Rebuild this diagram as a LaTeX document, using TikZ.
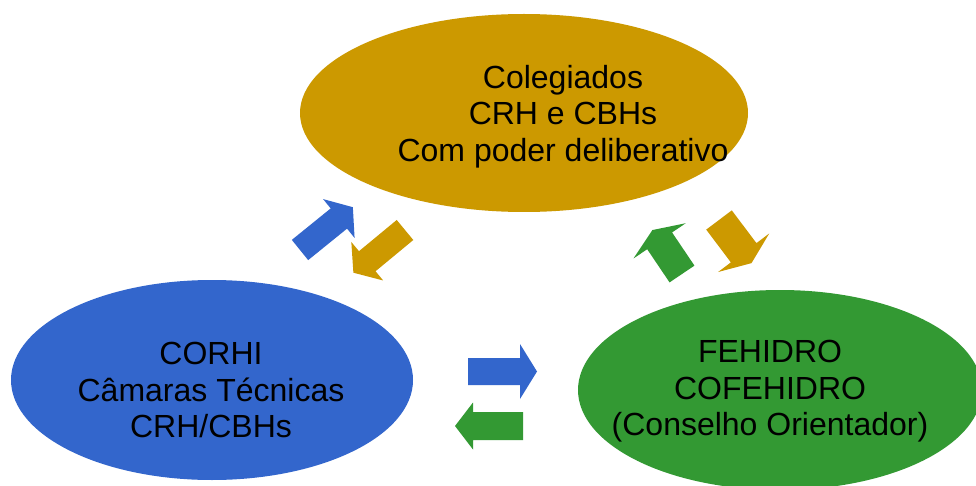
\documentclass[tikz,border=0pt]{standalone}
\usepackage{fontspec}
\setmainfont{Liberation Sans}
\usetikzlibrary{shapes.geometric}
\definecolor{gold}{RGB}{204,153,0}
\definecolor{cblue}{RGB}{51,102,204}
\definecolor{cgreen}{RGB}{51,153,51}
% #1 colour, #2 tail x, #3 tail y, #4 angle, #5 length, #6 body width, #7 head width, #8 head length
\newcommand\blkarrow[8]{%
  \begin{scope}[shift={(#2,#3)}, rotate=#4]
    \fill[#1] (0,{-#6/2}) -- ({#5-#8},{-#6/2}) -- ({#5-#8},{-#7/2}) -- (#5,0)
      -- ({#5-#8},{#7/2}) -- ({#5-#8},{#6/2}) -- (0,{#6/2}) -- cycle;
  \end{scope}}
\tikzset{
  blob/.style={ellipse, inner sep=0pt, draw=none},
  lbl/.style={align=center, inner sep=0pt, font=\fontsize{32}{36.5}\selectfont, text=black}
}
\begin{document}
\begin{tikzpicture}[x=1pt, y=-1pt]
\clip (0,0) rectangle (976,486);
\useasboundingbox (0,0) rectangle (976,486);
\fill[white] (0,0) rectangle (976,486);

\node[blob, fill=gold, minimum width=448pt, minimum height=198pt] (col) at (524,113) {};
\node[blob, fill=cblue, minimum width=402pt, minimum height=200pt] (corhi) at (212,380) {};
\node[blob, fill=cgreen, minimum width=404pt, minimum height=200pt] (feh) at (780,390) {};

\node[lbl] (colT) at (563,116.4) {Colegiados\\CRH e CBHs\\Com poder deliberativo};
\node[lbl] (corhiT) at (211,390.3) {CORHI\\Câmaras Técnicas\\CRH/CBHs};
\node[lbl] (fehT) at (770,391.4) {FEHIDRO\\COFEHIDRO\\(Conselho Orientador)};

\blkarrow{cblue}{300}{250}{39}{68}{26}{50}{18}
\blkarrow{gold}{405}{230}{219.6}{67}{26}{50}{18}
\blkarrow{cgreen}{682}{274}{124}{53}{30}{63}{13}
\blkarrow{gold}{719}{220}{-53}{54}{32}{64}{13}
\blkarrow{cblue}{468}{371.5}{0}{69}{27}{55}{17}
\blkarrow{cgreen}{523}{426}{180}{68}{28}{47}{18}
\end{tikzpicture}
\end{document}
